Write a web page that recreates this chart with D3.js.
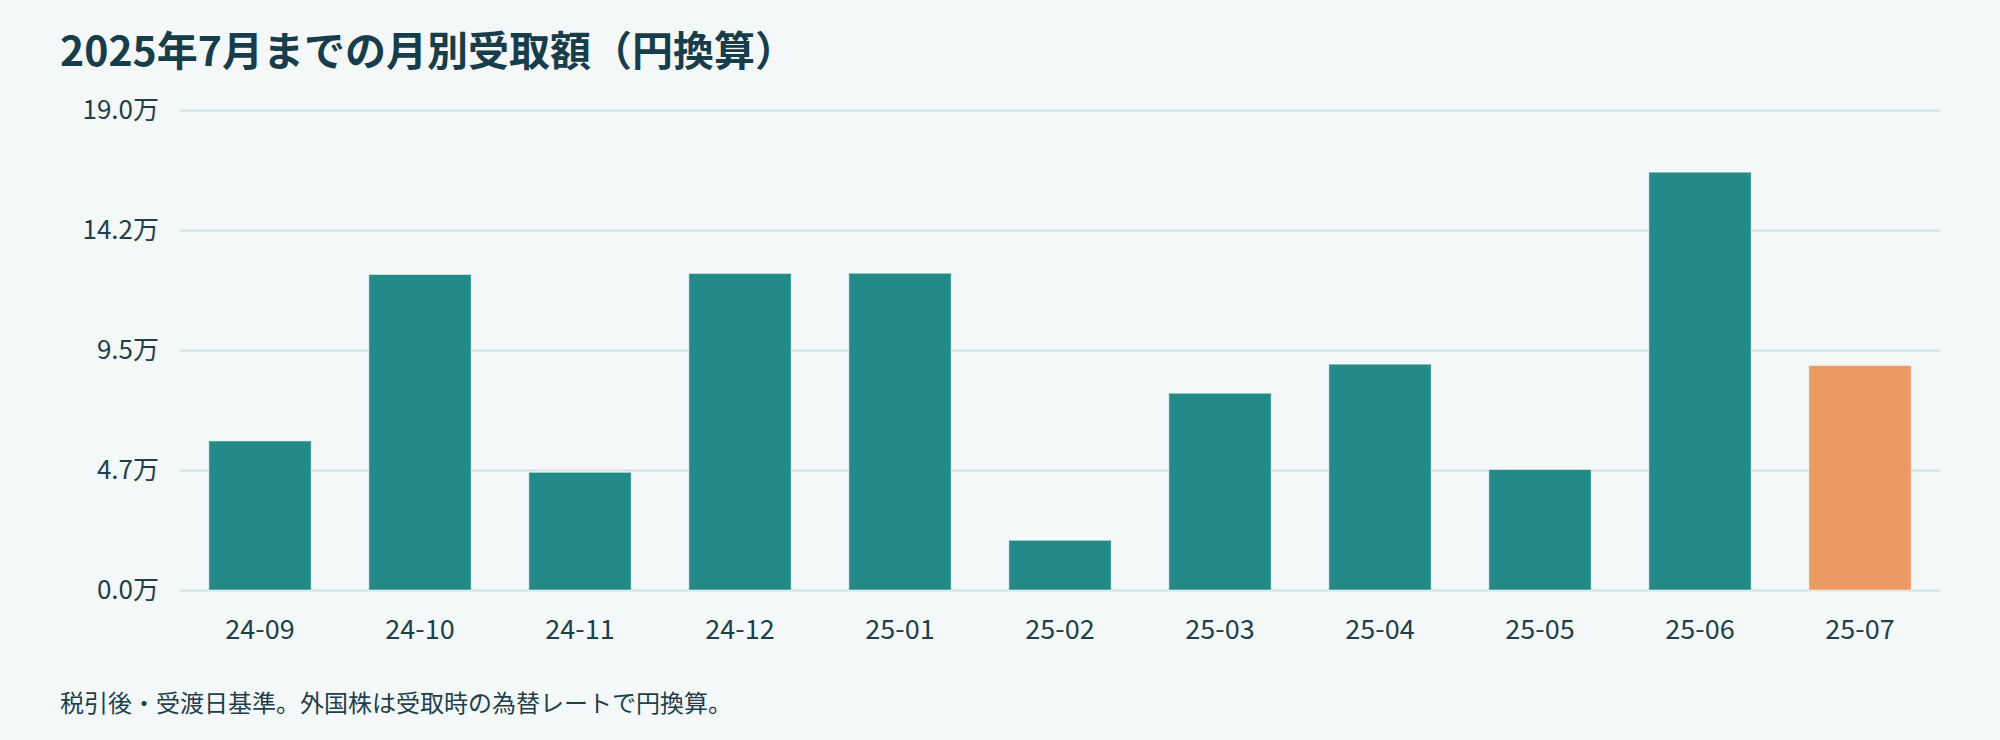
<!DOCTYPE html>
<html>
<head>
<meta charset="utf-8">
<script src="https://cdn.jsdelivr.net/npm/d3@7"></script>
<style>
  html, body { margin: 0; padding: 0; background: #f4f8f9; }
  svg { display: block; }
  text { font-family: "Noto Sans CJK JP", "Noto Sans", sans-serif; }
</style>
</head>
<body>
<script>
// monthly amounts, in 万円
var months = ["24-09", "24-10", "24-11", "24-12", "25-01", "25-02", "25-03", "25-04", "25-05", "25-06", "25-07"];
var amounts = [5.90, 12.49, 4.66, 12.53, 12.54, 1.97, 7.79, 8.94, 4.77, 16.54, 8.89];
var yTicks = [0, 4.75, 9.5, 14.25, 19];
var yTickLabels = ["0.0万", "4.7万", "9.5万", "14.2万", "19.0万"];
var currentMonth = "25-07";

var title = "2025年7月までの月別受取額（円換算）";
var note = "税引後・受渡日基準。外国株は受取時の為替レートで円換算。";

var w = 2000;
var h = 740;
var plotLeft = 180, plotRight = 1940, plotTop = 110, plotBottom = 590;

var svg = d3.select("body")
            .append("svg")
            .attr("width", w)
            .attr("height", h);

svg.append("rect")
    .attr("width", w)
    .attr("height", h)
    .attr("fill", "#f4f8f9");

var x = d3.scaleBand()
    .domain(months)
    .range([plotLeft, plotRight])
    .paddingInner(0.36)
    .paddingOuter(0.18);

var y = d3.scaleLinear()
    .domain([0, 19])
    .range([plotBottom, plotTop]);

// grid + y labels
var yAxis = d3.axisLeft(y)
    .tickValues(yTicks)
    .tickFormat(function(d, i) { return yTickLabels[i]; })
    .tickSize(0)
    .tickPadding(21);

var gy = svg.append("g")
    .attr("transform", "translate(" + plotLeft + ",0)")
    .call(yAxis);
gy.select(".domain").remove();
gy.selectAll("text")
    .style("font-size", "26px")
    .style("fill", "#1f3f4b");
gy.selectAll(".tick line")
    .attr("x2", plotRight - plotLeft)
    .style("stroke", "#d3e1e4")
    .style("stroke-width", 2);

// bars
svg.selectAll("rect.bar")
    .data(amounts)
    .enter()
    .append("rect")
    .attr("class", "bar")
    .attr("x", function(d, i) { return x(months[i]); })
    .attr("y", function(d) { return y(d); })
    .attr("width", x.bandwidth())
    .attr("height", function(d) { return y(0) - y(d); })
    .style("fill", function(d, i) { return months[i] == currentMonth ? "#eb9a63" : "#238a87"; })
    .style("stroke", "rgba(255,255,255,0.55)")
    .style("stroke-width", 1);

// x labels
var xAxis = d3.axisBottom(x)
    .tickSize(0)
    .tickPadding(30);

var gx = svg.append("g")
    .attr("transform", "translate(0," + plotBottom + ")")
    .call(xAxis);
gx.select(".domain").remove();
gx.selectAll("text")
    .style("font-size", "27px")
    .style("fill", "#1f3f4b");

// title and note
svg.append("text")
    .text(title)
    .attr("x", 60)
    .attr("y", 66)
    .style("font-size", "41px")
    .style("font-weight", "bold")
    .style("fill", "#173d4a");

svg.append("text")
    .text(note)
    .attr("x", 60)
    .attr("y", 712)
    .style("font-size", "24px")
    .style("fill", "#1f3f4b");
</script>
</body>
</html>
